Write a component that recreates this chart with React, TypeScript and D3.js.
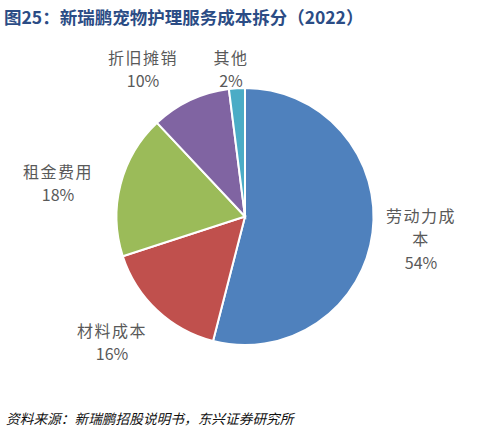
import React from "react";
import * as d3 from "d3";

const categories = ["劳动力成本", "材料成本", "租金费用", "折旧摊销", "其他"];
const shares = [54, 16, 18, 10, 2];
const colors = ["#4F81BD", "#C0504D", "#9BBB59", "#8064A2", "#4BACC6"];
// Label lines as laid out beside each slice
const labelLines = [["劳动力成", "本"], ["材料成本"], ["租金费用"], ["折旧摊销"], ["其他"]];
const labelPos: [number, number][] = [[421, 216], [112, 331], [58, 172], [143, 58], [231, 58]];

const W = 481;
const H = 431;
const cx = 245;
const cy = 216.5;
const radius = 128.5;

export default function App() {
  const pie = d3.pie<number>().sort(null).value((d) => d)(shares);
  const arc = d3.arc<d3.PieArcDatum<number>>().innerRadius(0).outerRadius(radius);
  const font = "'Noto Sans CJK SC', 'Microsoft YaHei', sans-serif";
  return (
    <svg width={W} height={H} style={{ position: "absolute", left: 0, top: 0 }}>
      <rect width={W} height={H} fill="#fff" />
      <text x={4} y={24} fontFamily={font} fontWeight="bold" fontSize={17.5} fill="#2B4C85">
        图25：新瑞鹏宠物护理服务成本拆分（2022）
      </text>
      <g transform={`translate(${cx},${cy})`}>
        {pie.map((p, i) => (
          <path key={i} d={arc(p) || ""} fill={colors[i]} stroke="#fff" strokeWidth={2} />
        ))}
      </g>
      {categories.map((c, i) => {
        const [x, y] = labelPos[i];
        const lines = labelLines[i];
        return (
          <text key={c} x={x} y={y} textAnchor="middle" fontFamily={font} fontSize={16} fill="#595959">
            {lines.map((l, j) => (
              <tspan key={j} x={x} y={y + j * 23.5} dy="0.35em" letterSpacing={1.5}>{l}</tspan>
            ))}
            <tspan x={x} y={y + lines.length * 23.5} dy="0.35em">{`${shares[i]}%`}</tspan>
          </text>
        );
      })}
      <text x={6} y={424} fontFamily={font} fontStyle="italic" fontSize={13.7} fill="#111">
        资料来源：新瑞鹏招股说明书，东兴证券研究所
      </text>
    </svg>
  );
}
